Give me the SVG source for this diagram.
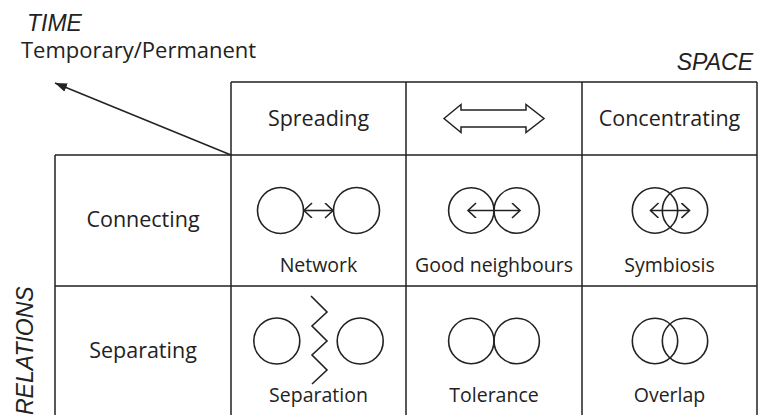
<svg xmlns="http://www.w3.org/2000/svg" width="759" height="415" viewBox="0 0 759 415">
<defs>
<style>
.ln{stroke:#222;stroke-width:1.5;fill:none}
.c{stroke:#222;stroke-width:1.6;fill:none}
.t{font-family:"Open Sans","Liberation Sans",sans-serif;fill:#222}
.h{font-size:21.5px;text-anchor:middle}
.lb{font-size:19.5px;text-anchor:middle}
.it{font-family:"Liberation Sans",Arial,sans-serif;font-style:italic;font-size:23px;fill:#222}
</style>
<marker id="tri" markerUnits="userSpaceOnUse" markerWidth="14" markerHeight="10" refX="12" refY="4.5" orient="auto">
<path d="M0,0 L12,4.5 L0,9 z" fill="#222"/>
</marker>
<marker id="chev" markerUnits="userSpaceOnUse" markerWidth="12" markerHeight="16" refX="9" refY="7.5" orient="auto-start-reverse">
<path d="M1,0 L9,7.5 L1,15" fill="none" stroke="#222" stroke-width="1.6"/>
</marker>
</defs>
<rect width="759" height="415" fill="#fff"/>

<g id="connectors">
<line class="ln" x1="231" y1="155" x2="55" y2="83" stroke-width="1.2" marker-end="url(#tri)"/>
</g>

<g id="grid">
<path class="ln" d="M231,82 H757 M55,155 H757 M55,286 H757 M55,155 V416 M231,82 V416 M406,82 V416 M582,82 V416 M757,82 V416"/>
</g>

<g id="axis-time">
<text class="it" x="27" y="31">TIME</text>
<text class="t" x="21" y="58" font-size="22">Temporary/Permanent</text>
</g>
<g id="axis-space">
<text class="it" x="753" y="70" text-anchor="end">SPACE</text>
</g>
<g id="axis-relations">
<text class="it" transform="translate(33,415) rotate(-90)">RELATIONS</text>
</g>

<g id="hdr-spreading"><text class="t h" x="318.5" y="126">Spreading</text></g>
<g id="hdr-arrow"><path class="ln" d="M444,118.5 L461,104.5 V110 H526 V104.5 L544,118.5 L526,132.5 V127 H461 V132.5 Z" fill="#fff"/></g>
<g id="hdr-concentrating"><text class="t h" x="669.5" y="126">Concentrating</text></g>

<g id="row-connecting"><text class="t h" x="143" y="227">Connecting</text></g>
<g id="row-separating"><text class="t h" x="143" y="357.5">Separating</text></g>

<g id="network">
<circle class="c" cx="280.5" cy="210.5" r="23"/>
<circle class="c" cx="356.5" cy="210.5" r="23"/>
<line class="c" x1="304" y1="210.5" x2="333" y2="210.5" marker-start="url(#chev)" marker-end="url(#chev)"/>
<text class="t lb" x="318.5" y="272">Network</text>
</g>

<g id="good-neighbours">
<circle class="c" cx="471.3" cy="210.5" r="22.7"/>
<circle class="c" cx="516.7" cy="210.5" r="22.7"/>
<line class="c" x1="468" y1="210.5" x2="520" y2="210.5" marker-start="url(#chev)" marker-end="url(#chev)"/>
<text class="t lb" x="494" y="272">Good neighbours</text>
</g>

<g id="symbiosis">
<circle class="c" cx="655" cy="210.5" r="22.7"/>
<circle class="c" cx="685" cy="210.5" r="22.7"/>
<line class="c" x1="650.5" y1="210.5" x2="689.5" y2="210.5" marker-start="url(#chev)" marker-end="url(#chev)"/>
<text class="t lb" x="669.5" y="272">Symbiosis</text>
</g>

<g id="separation">
<circle class="c" cx="276.8" cy="341" r="23"/>
<circle class="c" cx="360.2" cy="341" r="23"/>
<polyline class="c" points="311,296 327,312 312,326 327,341 312,355 327,370 312,384"/>
<text class="t lb" x="318.5" y="402">Separation</text>
</g>

<g id="tolerance">
<circle class="c" cx="471.3" cy="341" r="22.7"/>
<circle class="c" cx="516.7" cy="341" r="22.7"/>
<text class="t lb" x="494" y="402">Tolerance</text>
</g>

<g id="overlap">
<circle class="c" cx="655" cy="341" r="22.7"/>
<circle class="c" cx="685" cy="341" r="22.7"/>
<text class="t lb" x="669.5" y="402">Overlap</text>
</g>
</svg>
